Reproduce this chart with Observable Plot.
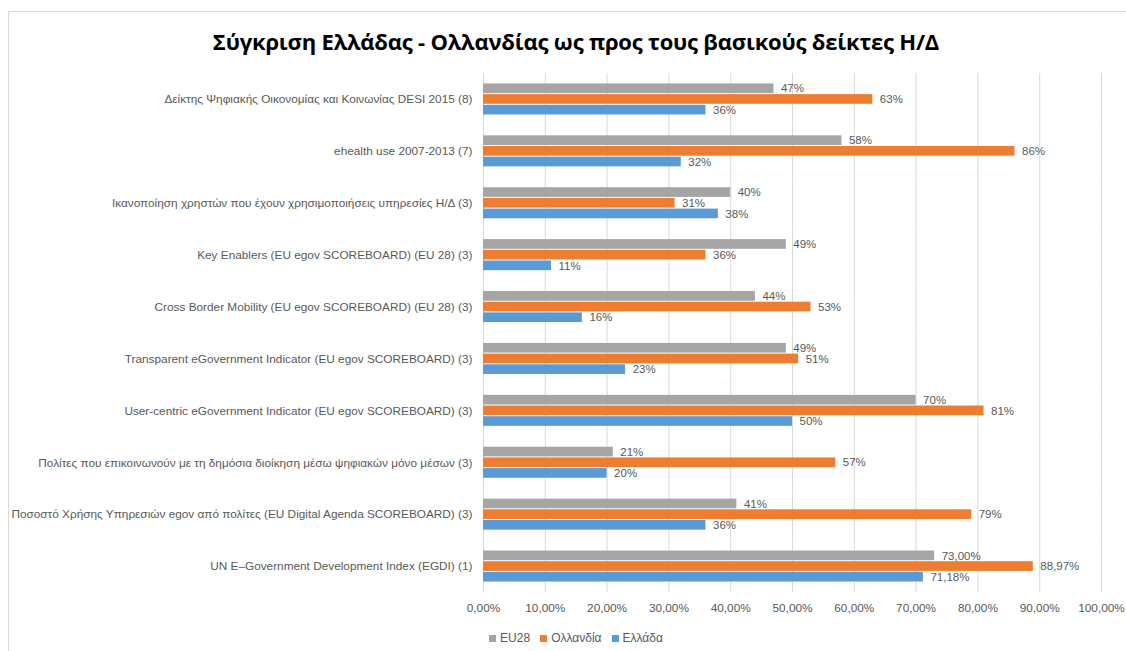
<!DOCTYPE html>
<html>
<head>
<meta charset="utf-8">
<script src="https://cdn.jsdelivr.net/npm/d3@7"></script>
<script src="https://cdn.jsdelivr.net/npm/@observablehq/plot@0.6"></script>
<style>
  html, body { margin: 0; padding: 0; background: #fff; overflow: hidden; }
  body { width: 1126px; height: 651px; position: relative; font-family: "Liberation Sans", Arial, sans-serif; }
  #frame { position: absolute; left: 8px; top: 11px; width: 1200px; height: 700px; border: 1px solid #D9D9D9; box-sizing: border-box; }
  #title { position: absolute; left: 0; width: 1152px; top: 26px; text-align: center; font-family: "Open Sans", sans-serif; font-weight: bold; font-size: 22px; color: #000; letter-spacing: -0.2px; }
  #chart { position: absolute; left: 0; top: 60px; line-height: 0; }
  #legend { position: absolute; left: 0; width: 1152px; top: 631px; text-align: center; font-size: 12px; color: #595959; }
  #legend span.item { margin: 0 5px; }
  #legend span.sw { display: inline-block; width: 7px; height: 7px; margin-right: 4px; vertical-align: 0px; }
</style>
</head>
<body>
<div id="frame"></div>
<div id="title">Σύγκριση Ελλάδας - Ολλανδίας ως προς τους βασικούς δείκτες Η/Δ</div>
<div id="chart"></div>
<div id="legend"></div>
<script>
const categories = [
  "Δείκτης Ψηφιακής Οικονομίας και Κοινωνίας DESI 2015 (8)",
  "ehealth use 2007-2013 (7)",
  "Ικανοποίηση χρηστών που έχουν χρησιμοποιήσεις υπηρεσίες Η/Δ (3)",
  "Key Enablers (EU egov SCOREBOARD) (EU 28) (3)",
  "Cross Border Mobility (EU egov SCOREBOARD) (EU 28) (3)",
  "Transparent eGovernment Indicator (EU egov SCOREBOARD) (3)",
  "User-centric eGovernment Indicator (EU egov SCOREBOARD) (3)",
  "Πολίτες που επικοινωνούν με τη δημόσια διοίκηση μέσω ψηφιακών μόνο μέσων (3)",
  "Ποσοστό Χρήσης Υπηρεσιών egov από πολίτες (EU Digital Agenda SCOREBOARD) (3)",
  "UN E–Government Development Index (EGDI) (1)"
];
const seriesNames = ["EU28", "Ολλανδία", "Ελλάδα"];
const seriesColors = ["#A5A5A5", "#ED7D31", "#5B9BD5"];
const eu28   = [47, 58, 40, 49, 44, 49, 70, 21, 41, 73.00];
const nl     = [63, 86, 31, 36, 53, 51, 81, 57, 79, 88.97];
const gr     = [36, 32, 38, 11, 16, 23, 50, 20, 36, 71.18];
const labelDecimals = [0, 0, 0, 0, 0, 0, 0, 0, 0, 2];
const xTicks = [0, 0.1, 0.2, 0.3, 0.4, 0.5, 0.6, 0.7, 0.8, 0.9, 1.0];

const seriesValues = [eu28, nl, gr];
const data = [];
categories.forEach((c, i) => {
  seriesNames.forEach((s, j) => {
    const v = seriesValues[j][i];
    data.push({
      cat: c, series: s, value: v / 100,
      label: v.toFixed(labelDecimals[i]).replace(".", ",") + "%"
    });
  });
});

const pct2 = d => (d * 100).toFixed(2).replace(".", ",") + "%";

const chart = Plot.plot({
  width: 1126,
  height: 562,
  marginLeft: 483,
  marginRight: 25,
  marginTop: 13,
  marginBottom: 30,
  style: { fontFamily: "'Liberation Sans', Arial, sans-serif", fontSize: "11.8px", color: "#595959", background: "transparent" },
  x: { domain: [0, 1], ticks: xTicks, tickFormat: pct2, tickSize: 0, tickPadding: 11, label: null, fontSize: 12 },
  fy: { domain: categories, padding: 0, round: false, label: null, axis: "left", tickSize: 0, tickPadding: 11 },
  y: { domain: seriesNames, paddingInner: 0, paddingOuter: 0.93, round: false, axis: null },
  color: { domain: seriesNames, range: seriesColors },
  marks: [
    Plot.ruleX(xTicks, { stroke: "#D9D9D9", strokeWidth: 1 }),
    Plot.barX(data, { fy: "cat", y: "series", x: "value", fill: "series", insetTop: 0.5, insetBottom: 0.5 }),
    Plot.text(data, { fy: "cat", y: "series", x: "value", text: "label", dx: 7, textAnchor: "start", fill: "#595959", fontSize: 11.5 })
  ]
});
document.getElementById("chart").appendChild(chart);

const legend = document.getElementById("legend");
seriesNames.forEach((s, j) => {
  const item = document.createElement("span");
  item.className = "item";
  const sw = document.createElement("span");
  sw.className = "sw";
  sw.style.background = seriesColors[j];
  item.appendChild(sw);
  item.appendChild(document.createTextNode(s));
  legend.appendChild(item);
});
</script>
</body>
</html>
